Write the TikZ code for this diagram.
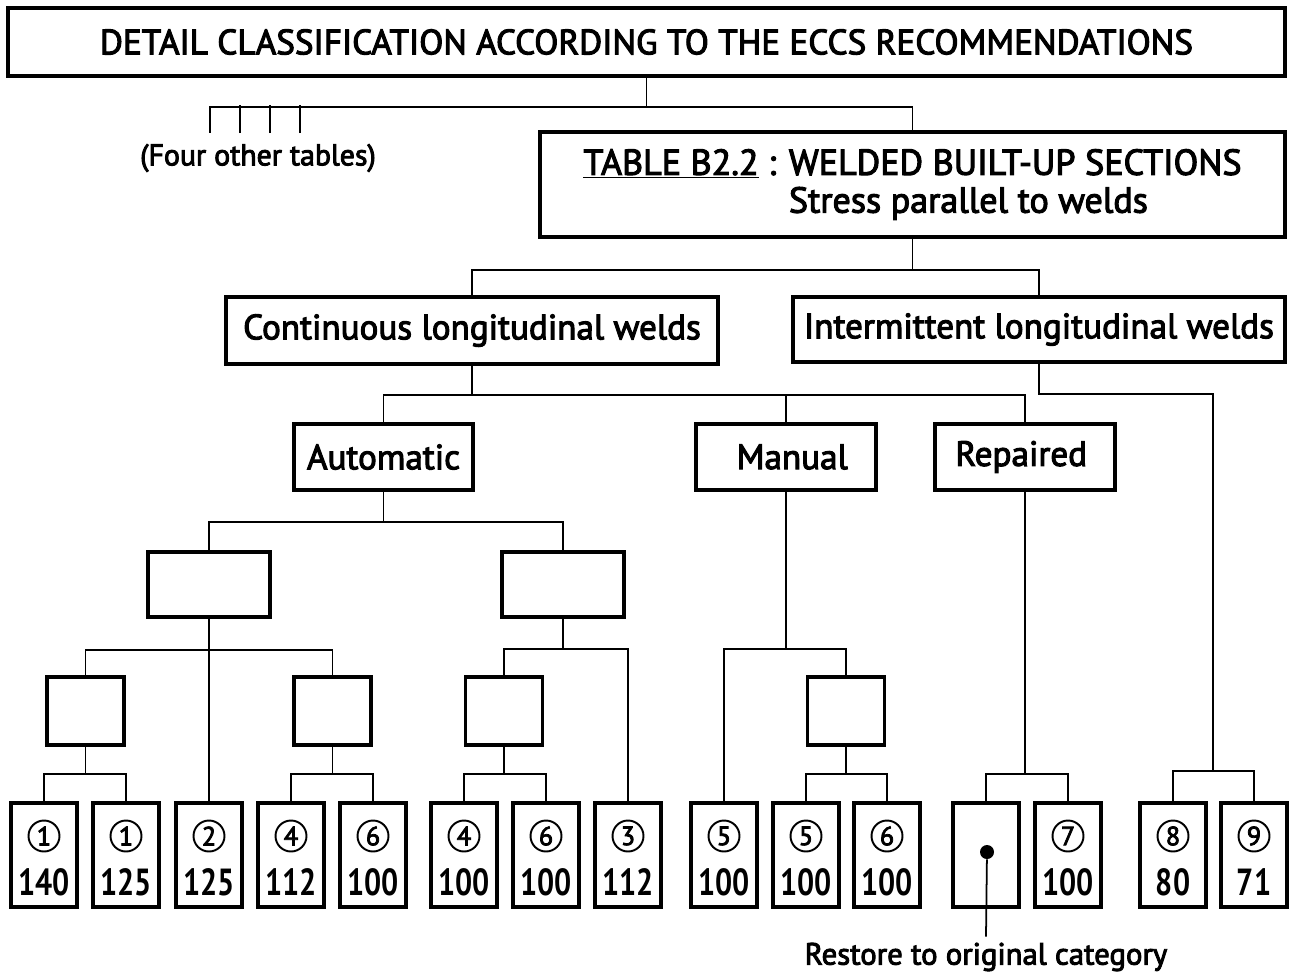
\documentclass[tikz,border=0pt]{standalone}
\usepackage{fontspec}
\setmainfont{PT Sans}[FakeBold=3]
\newfontfamily\catfont{PT Sans}[FakeStretch=0.8]
\usetikzlibrary{positioning}

\tikzset{
    box/.style={draw, line width=2pt, inner sep=0pt, align=center},
    wide/.style={box, minimum width=2.44cm, minimum height=1.3cm},
    small/.style={box, minimum width=1.54cm, minimum height=1.36cm},
    leaf/.style={box, minimum width=1.32cm, minimum height=2.08cm},
    ring/.style={draw, circle, line width=1.1pt, inner sep=0pt, minimum size=0.62cm, font=\fontsize{15}{15}\selectfont},
    value/.style={font=\catfont\bfseries\fontsize{21.5}{21.5}\selectfont},
    label/.style={font=\fontsize{20}{22}\selectfont},
    link/.style={line width=1pt}
}

\begin{document}
\begin{tikzpicture}[x=0.02cm, y=0.02cm, yscale=-1]
    \useasboundingbox (0,0) rectangle (1289,971);

    % Top of the tree
    \node[box, label, minimum width=25.54cm, minimum height=1.36cm] (title) at (646.5,42)
        {DETAIL CLASSIFICATION ACCORDING TO THE ECCS RECOMMENDATIONS};
    \node[box, minimum width=14.9cm, minimum height=2.1cm, align=left, font=\fontsize{20.5}{21.5}\selectfont] (table) at (912.5,184.5)
        {\underline{TABLE B2.2} : WELDED BUILT-UP SECTIONS\\
         \phantom{\underline{TABLE B2.2} : }Stress parallel to welds};

    % The four other tables
    \coordinate (t1) at (210,133);
    \coordinate (t2) at (240,133);
    \coordinate (t3) at (270,133);
    \coordinate (t4) at (300,133);
    \node[font=\fontsize{17}{17}\selectfont] (others) at (258,158) {(Four other tables)};

    % Weld types
    \node[box, label, minimum width=9.84cm, minimum height=1.34cm] (cont) at (472,330.5)
        {Continuous longitudinal welds};
    \node[box, label, minimum width=9.84cm, minimum height=1.3cm] (inter) at (1039,329.5)
        {Intermittent longitudinal welds};

    % Welding process
    \node[box, label, minimum width=3.58cm, minimum height=1.32cm] (auto) at (383.5,457) {Automatic};
    \node[box, label, minimum width=3.6cm, minimum height=1.32cm] (manual) at (786,457) {\hspace{0.25cm}Manual};
    \node[box, label, minimum width=3.6cm, minimum height=1.32cm] (repaired) at (1025,457) {Repaired\hspace{0.15cm}};

    % Empty boxes
    \node[wide] (a1) at (209,584.5) {};
    \node[wide] (a2) at (563,584.5) {};
    \node[small] (a11) at (85.5,711) {};
    \node[small] (a12) at (332.5,711) {};
    \node[small] (a21) at (504,711) {};
    \node[small] (m1) at (846,711) {};

    % Detail categories
    \foreach \name/\x/\num/\cat in {l1/44/1/140, l2/126/1/125, l3/209/2/125, l4/291/4/112,
        l5/373/6/100, l6/464/4/100, l7/546/6/100, l8/628/3/112, l9/724/5/100,
        l10/806/5/100, l11/887/6/100, l13/1068/7/100, l14/1173/8/80, l15/1254/9/71} {
        \node[leaf] (\name) at (\x,855) {};
        \node[ring] (\name n) at (\x,836) {\num};
        \node[value] (\name v) at (\x,882) {\cat};
    }
    \node[leaf] (l12) at (986,855) {};
    \node[circle, fill, inner sep=0pt, minimum size=0.28cm] (pin) at (987,852) {};
    \node[font=\fontsize{17.5}{17.5}\selectfont] (restore) at (986,957) {Restore to original category};

    % Draw the connectors
    \draw[link] (title.south) -- ++(0,29) -| (table.north);
    \draw[link] (title.south) -- ++(0,29) -| (t1);
    \foreach \n in {2,3,4} \draw[link] (t\n) -- ++(0,-28);
    \draw[link] (table.south) -- ++(0,31) -| (cont.north);
    \draw[link] (table.south) -- ++(0,31) -| (inter.north);
    \draw[link] (cont.south) -- ++(0,29) -| (auto.north);
    \draw[link] (cont.south) -- ++(0,29) -| (manual.north);
    \draw[link] (cont.south) -- ++(0,29) -| (repaired.north);
    \coordinate (c9) at (1213,771);
    \draw[link] (inter.south) -- ++(0,30) -| (c9);
    \draw[link] (c9) -| (l14.north);
    \draw[link] (c9) -| (l15.north);
    \draw[link] (auto.south) -- ++(0,30) -| (a1.north);
    \draw[link] (auto.south) -- ++(0,30) -| (a2.north);
    \draw[link] (a1.south) -- ++(0,31) -| (a11.north);
    \draw[link] (a1.south) -- ++(0,31) -| (a12.north);
    \draw[link] (a1.south) -- (l3.north);
    \draw[link] (a11.south) -- ++(0,27) -| (l1.north);
    \draw[link] (a11.south) -- ++(0,27) -| (l2.north);
    \draw[link] (a12.south) -- ++(0,27) -| (l4.north);
    \draw[link] (a12.south) -- ++(0,27) -| (l5.north);
    \draw[link] (a2.south) -- ++(0,30) -| (a21.north);
    \draw[link] (a2.south) -- ++(0,30) -| (l8.north);
    \draw[link] (a21.south) -- ++(0,27) -| (l6.north);
    \draw[link] (a21.south) -- ++(0,27) -| (l7.north);
    \draw[link] (manual.south) -- ++(0,157) -| (l9.north);
    \draw[link] (manual.south) -- ++(0,157) -| (m1.north);
    \draw[link] (m1.south) -- ++(0,27) -| (l10.north);
    \draw[link] (m1.south) -- ++(0,27) -| (l11.north);
    \draw[link] (repaired.south) -- ++(0,282) -| (l12.north);
    \draw[link] (repaired.south) -- ++(0,282) -| (l13.north);
    \draw[link] (pin) -- (restore.north);
\end{tikzpicture}
\end{document}
